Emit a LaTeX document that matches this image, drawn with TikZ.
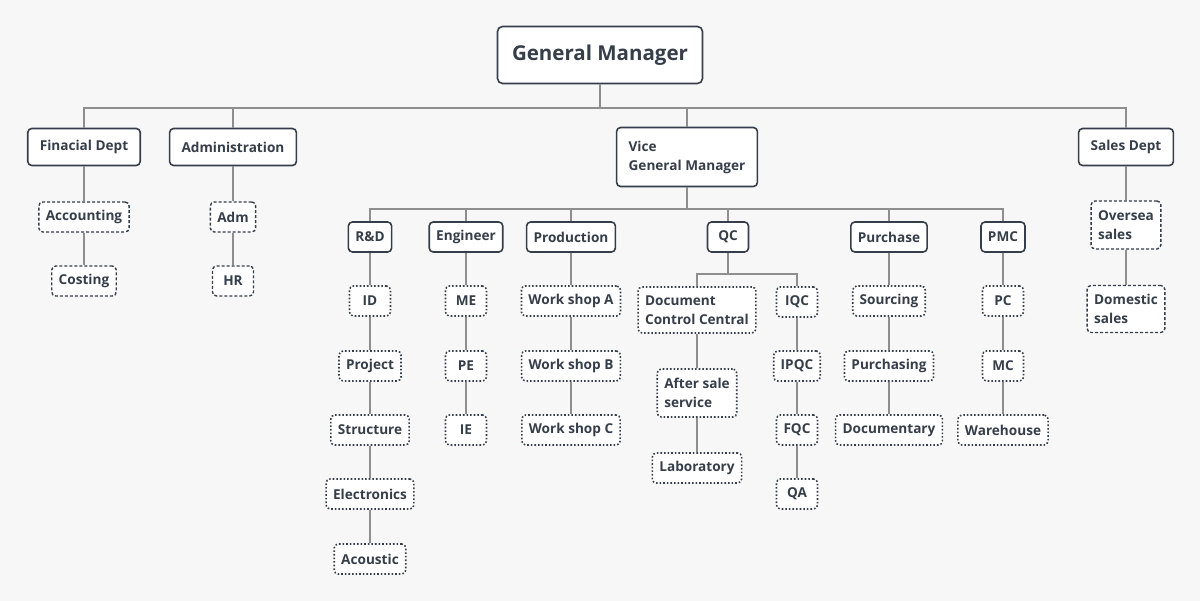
\documentclass[tikz,border=0pt]{standalone}
\usepackage{fontspec}
\setmainfont{Open Sans}
\usetikzlibrary{positioning}
\definecolor{ink}{HTML}{363E4A}
\definecolor{wire}{HTML}{8E8E8E}
\definecolor{paper}{HTML}{F7F7F7}
\tikzset{
  box/.style={rectangle, rounded corners=4pt, draw=ink, fill=white, text=ink,
    line width=1.6pt, inner xsep=7pt, inner ysep=0pt, minimum height=30pt,
    font=\fontsize{13.6}{19}\selectfont\bfseries},
  chief/.style={box, rounded corners=5pt, minimum width=205pt, minimum height=57pt,
    font=\fontsize{20.5}{24}\selectfont\bfseries},
  dept/.style={box, inner xsep=12pt, minimum height=37pt},
  unit/.style={box},
  leafd/.style={box, minimum width=41pt, line width=1.4pt, dash pattern=on 3pt off 2pt},
  leafo/.style={box, minimum width=41pt, line width=1.6pt, dash pattern=on 1.6pt off 2pt},
  wire/.style={draw=wire, line width=1.1pt},
}
\begin{document}
\begin{tikzpicture}[x=1pt,y=-1pt]
\fill[paper] (0,0) rectangle (1200,601);
\useasboundingbox (0,0) rectangle (1200,601);

% top level
\node[chief] (gm) at (600,55) {General Manager};
\node[dept] (fin) at (84,147) {Finacial Dept};
\node[dept] (adm) at (233,147) {Administration};
\node[dept, align=left, minimum height=59pt] (vgm) at (687,157) {Vice\\General Manager};
\node[dept] (sales) at (1126,147) {Sales Dept};
\coordinate (bus) at (600,108);
\draw[wire] (gm) -- (bus);
\foreach \d in {fin,adm,vgm,sales}
  \draw[wire] (bus) -| (\d);

% finance, admin, sales
\node[leafd] (acc) at (84,217) {Accounting};
\node[leafd] (cost) at (84,281) {Costing};
\node[leafd] (admx) at (233,217) {Adm};
\node[leafd] (hr) at (233,281) {HR};
\node[leafd, align=left, minimum height=48pt] (over) at (1126,225) {Oversea\\sales};
\node[leafd, align=left, minimum height=47pt] (dom) at (1126,309) {Domestic\\sales};
\draw[wire] (fin) -- (acc) -- (cost);
\draw[wire] (adm) -- (admx) -- (hr);
\draw[wire] (sales) -- (over) -- (dom);

% under vice general manager
\node[unit] (rd) at (370,237) {R\&D};
\node[unit] (eng) at (466,237) {Engineer};
\node[unit] (prod) at (571,237) {Production};
\node[unit, minimum width=41pt] (qc) at (728,237) {QC};
\node[unit] (pur) at (889,237) {Purchase};
\node[unit] (pmc) at (1003,237) {PMC};
\coordinate (vbus) at (687,209);
\draw[wire] (vgm) -- (vbus);
\foreach \d in {rd,eng,prod,qc,pur,pmc}
  \draw[wire] (vbus) -| (\d);

% R&D
\node[leafo] (id) at (370,301) {ID};
\node[leafo] (proj) at (370,366) {Project};
\node[leafo] (struc) at (370,430) {Structure};
\node[leafo] (elec) at (370,494) {Electronics};
\node[leafo] (acou) at (370,559) {Acoustic};
\draw[wire] (rd) -- (id) -- (proj) -- (struc) -- (elec) -- (acou);

% engineer
\node[leafo] (me) at (466,301) {ME};
\node[leafo] (pe) at (466,366) {PE};
\node[leafo] (ie) at (466,430) {IE};
\draw[wire] (eng) -- (me) -- (pe) -- (ie);

% production
\node[leafo] (wsa) at (571,301) {Work shop A};
\node[leafo] (wsb) at (571,366) {Work shop B};
\node[leafo] (wsc) at (571,430) {Work shop C};
\draw[wire] (prod) -- (wsa) -- (wsb) -- (wsc);

% QC
\node[leafo, align=left, minimum height=46pt] (dcc) at (697,310) {Document\\Control Central};
\node[leafo, align=left, minimum height=48pt] (after) at (697,393) {After sale\\service};
\node[leafo] (lab) at (697,468) {Laboratory};
\node[leafo] (iqc) at (797,302) {IQC};
\node[leafo] (ipqc) at (797,366) {IPQC};
\node[leafo] (fqc) at (797,430) {FQC};
\node[leafo] (qa) at (797,494) {QA};
\coordinate (qbus) at (728,274);
\draw[wire] (qc) -- (qbus);
\draw[wire] (qbus) -| (dcc);
\draw[wire] (qbus) -| (iqc);
\draw[wire] (dcc) -- (after) -- (lab);
\draw[wire] (iqc) -- (ipqc) -- (fqc) -- (qa);

% purchase
\node[leafo] (src) at (889,301) {Sourcing};
\node[leafo] (purc) at (889,366) {Purchasing};
\node[leafo] (docu) at (889,430) {Documentary};
\draw[wire] (pur) -- (src) -- (purc) -- (docu);

% PMC
\node[leafo] (pc) at (1003,301) {PC};
\node[leafo] (mc) at (1003,366) {MC};
\node[leafo] (wh) at (1003,430) {Warehouse};
\draw[wire] (pmc) -- (pc) -- (mc) -- (wh);
\end{tikzpicture}
\end{document}
